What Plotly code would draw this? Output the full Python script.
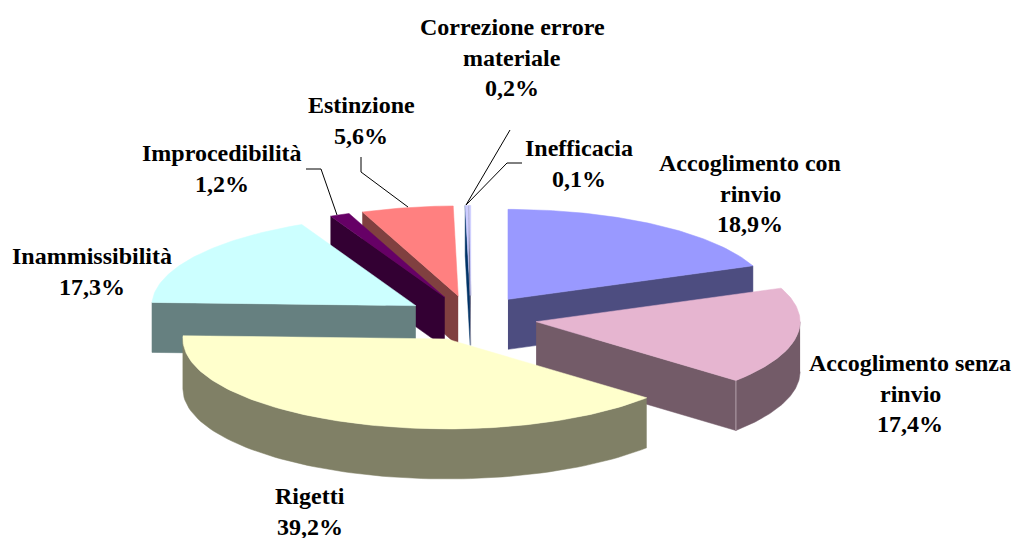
import numpy as np
import plotly.graph_objects as go

# --- data ---
categories = ["Accoglimento con rinvio", "Accoglimento senza rinvio", "Rigetti",
              "Inammissibilità", "Improcedibilità", "Estinzione",
              "Correzione errore materiale", "Inefficacia"]
values = [18.9, 17.4, 39.2, 17.3, 1.2, 5.6, 0.2, 0.1]
top_colors = ["#9999FF", "#E6B5D0", "#FFFFCC", "#CCFFFF", "#660066", "#FF8080", "#CCCCFF", "#CCCCFF"]
wall_colors = ["#4D4D80", "#735B68", "#808066", "#668080", "#330033", "#804040", "#003366", "#666680"]
label_lines = [["Accoglimento con", "rinvio"], ["Accoglimento senza", "rinvio"], ["Rigetti"],
               ["Inammissibilità"], ["Improcedibilità"], ["Estinzione"],
               ["Correzione errore", "materiale"], ["Inefficacia"]]
label_first_line = [(750, 163), (910, 363), (310, 496), (92, 256), (222, 153), (361, 105), (512, 27), (579, 148)]
leader_x = {4: [306, 321, 337], 5: [361, 361, 408], 6: [510, 466], 7: [522, 507, 466]}
leader_y = {4: [169, 169, 215], 5: [157, 172, 207], 6: [130, 205], 7: [163, 163, 205]}

# --- projection of the exploded 3-D pie ---
CX, CY, A, B, DEPTH, EXPLODE = 471, 318, 264, 90, 50, 0.25
LINE_STEP = 30.5
FONT = dict(family="Liberation Serif", size=24, color="#000000")
DRAW_ORDER = [6, 7, 5, 4, 0, 3, 1, 2]

total = sum(values)
edges = np.concatenate([[0], np.cumsum(values)]) / total * 2 * np.pi


def rim(t, ox, oy, dz=0.0):
    return ox + A * np.sin(t), oy - B * np.cos(t) + dz


def poly(fig, xs, ys, color):
    fig.add_trace(go.Scatter(x=list(xs), y=list(ys), mode="lines", fill="toself",
                             fillcolor=color, line=dict(color=color, width=0.5),
                             hoverinfo="skip", showlegend=False))


fig = go.Figure()
for i in DRAW_ORDER:
    t0, t1 = edges[i], edges[i + 1]
    mid = (t0 + t1) / 2
    ox = CX + EXPLODE * A * np.sin(mid)
    oy = CY - EXPLODE * B * np.cos(mid)
    wall = wall_colors[i]
    # radial walls that face the viewer
    for t, visible in ((t0, np.sin(t0) < 0), (t1, np.sin(t1) > 0)):
        if visible:
            rx, ry = rim(t, ox, oy)
            poly(fig, [ox, rx, rx, ox], [oy, ry, ry + DEPTH, oy + DEPTH], wall)
    # curved outer wall on the front half
    lo, hi = max(t0, np.pi / 2), min(t1, 3 * np.pi / 2)
    if hi > lo:
        ts = np.linspace(lo, hi, 80)
        x, y = rim(ts, ox, oy)
        poly(fig, np.r_[x, x[::-1]], np.r_[y, y[::-1] + DEPTH], wall)
        # light seam where a radial wall meets the curved wall
        if np.pi / 2 < t1 < 3 * np.pi / 2:
            sx, sy = rim(t1, ox, oy)
            fig.add_trace(go.Scatter(x=[sx, sx], y=[sy, sy + DEPTH], mode="lines",
                                     line=dict(color="#B5A3AD", width=1),
                                     hoverinfo="skip", showlegend=False))
    # top face
    ts = np.linspace(t0, t1, max(int((t1 - t0) * 60), 4))
    x, y = rim(ts, ox, oy)
    poly(fig, np.r_[ox, x, ox], np.r_[oy, y, oy], top_colors[i])

# leader lines
for i in leader_x:
    fig.add_trace(go.Scatter(x=leader_x[i], y=leader_y[i], mode="lines",
                             line=dict(color="#000000", width=1),
                             hoverinfo="skip", showlegend=False))

# labels, one annotation per line of text
for i, lines in enumerate(label_lines):
    x0, y0 = label_first_line[i]
    pct = f"{values[i]:.1f}%".replace(".", ",")
    for k, text in enumerate(lines + [pct]):
        fig.add_annotation(x=x0, y=y0 + k * LINE_STEP, text=f"<b>{text}</b>", showarrow=False,
                           xanchor="center", yanchor="middle", font=FONT)

fig.update_layout(width=1015, height=538, margin=dict(l=0, r=0, t=0, b=0),
                  paper_bgcolor="#FFFFFF", plot_bgcolor="#FFFFFF", showlegend=False,
                  xaxis=dict(range=[0, 1015], visible=False, fixedrange=True),
                  yaxis=dict(range=[538, 0], visible=False, fixedrange=True))
fig.write_html("out.html", config={"displayModeBar": False},
               post_script="document.body.style.margin='0';document.body.style.overflow='hidden';")
